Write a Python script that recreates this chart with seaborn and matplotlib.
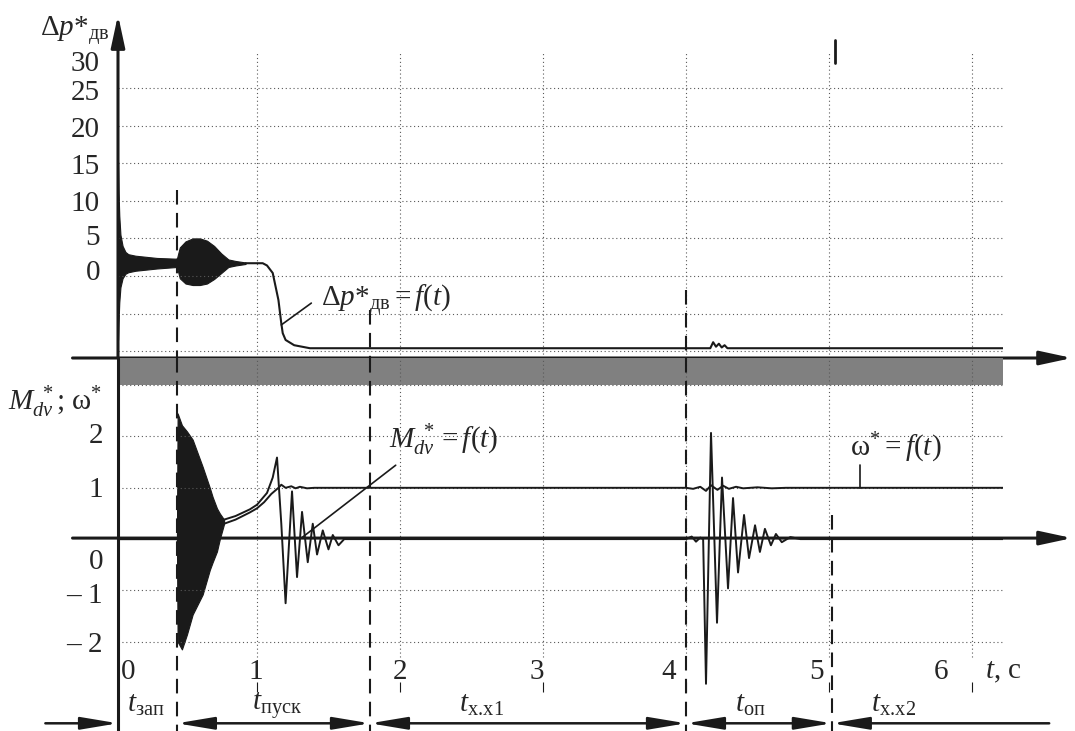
import matplotlib
matplotlib.use('Agg')
import matplotlib.pyplot as plt
import seaborn as sns

sns.set_theme(style='white')
plt.rcParams['font.family'] = ['Liberation Serif', 'DejaVu Serif']
plt.rcParams['mathtext.fontset'] = 'custom'
plt.rcParams['mathtext.rm'] = 'Liberation Serif'
plt.rcParams['mathtext.it'] = 'Liberation Serif:italic'
plt.rcParams['mathtext.bf'] = 'Liberation Serif:bold'

# --- data ---
# time axis (s)
t_ticks = [0, 1, 2, 3, 4, 5, 6]
t_phase = [0.44, 1.79, 4.0, 5.02]          # dashed phase boundaries
phase_labels = ['$t_{\\mathrm{зап}}$', '$t_{\\mathrm{пуск}}$', '$t_{\\mathrm{х.\\!х1}}$',
                '$t_{\\mathrm{оп}}$', '$t_{\\mathrm{х.\\!х2}}$']
phase_label_t = [0.22, 1.14, 2.57, 4.45, 5.45]

# upper panel: pressure drop dp*
dp_ticks = [0, 5, 10, 15, 20, 25, 30]
dp_grid = [25, 20, 15, 10, 5, 0, -5, -10]
dp_init_t = [0.028, 0.032, 0.037, 0.045, 0.06, 0.08, 0.1, 0.15, 0.2, 0.3, 0.44]
dp_init_hi = [15.2, 11.0, 8.0, 5.5, 4.0, 3.2, 2.9, 2.7, 2.6, 2.4, 2.3]
dp_init_lo = [-8.5, -6.0, -3.5, -1.5, -0.3, 0.3, 0.5, 0.7, 0.8, 1.0, 1.2]
dp_burst_t = [0.44, 0.46, 0.5, 0.55, 0.6, 0.65, 0.7, 0.75, 0.8, 0.85, 0.92]
dp_burst_hi = [2.3, 3.8, 4.6, 5.0, 5.0, 4.7, 4.0, 3.0, 2.2, 2.0, 1.8]
dp_burst_lo = [1.2, -0.3, -1.0, -1.2, -1.2, -1.0, -0.4, 0.4, 1.2, 1.4, 1.6]
dp_t = [0.92, 1.04, 1.07, 1.11, 1.15, 1.17, 1.18, 1.20, 1.26, 1.37,
        4.17, 4.19, 4.21, 4.23, 4.25, 4.27, 4.29, 4.33, 6.217]
dp_v = [1.7, 1.7, 1.4, 0.4, -3.2, -6.3, -7.6, -8.5, -9.2, -9.6,
        -9.6, -8.8, -9.4, -9.0, -9.5, -9.2, -9.6, -9.6, -9.6]

# lower panel: torque M* and speed w*
m_ticks = [2, 1, 0, -1, -2]
m_grid = [3, 2, 1, -1, -2]
m_burst_t = [0.44, 0.445, 0.475, 0.51, 0.55, 0.62, 0.67, 0.69, 0.72, 0.74, 0.77]
m_burst_hi = [0.0, 2.45, 2.22, 2.1, 1.94, 1.41, 1.0, 0.82, 0.6, 0.5, 0.38]
m_burst_lo = [0.0, -2.0, -2.15, -1.86, -1.47, -1.08, -0.6, -0.45, -0.24, 0.0, 0.3]
m_t = [0.028, 0.44, 0.77, 0.85, 0.95, 1.0, 1.07, 1.11, 1.14, 1.17, 1.20, 1.245, 1.28,
       1.315, 1.355, 1.39, 1.42, 1.46, 1.50, 1.53, 1.57, 1.61, 1.7, 4.0, 4.04, 4.07,
       4.1, 4.12, 4.14, 4.175, 4.217, 4.252, 4.294, 4.329, 4.364, 4.406, 4.441,
       4.483, 4.517, 4.552, 4.594, 4.629, 4.67, 4.73, 4.8, 6.217]
m_v = [0.0, 0.0, 0.38, 0.45, 0.58, 0.67, 0.9, 1.2, 1.59, 0.3, -1.25, 0.93, -0.74,
       0.53, -0.45, 0.3, -0.3, 0.17, -0.2, 0.08, -0.12, 0.0, 0.0, 0.0, 0.05, -0.05,
       0.03, 0.0, -2.82, 2.07, -1.63, 1.2, -0.96, 0.8, -0.65, 0.47, -0.37,
       0.27, -0.25, 0.2, -0.12, 0.1, -0.06, 0.04, 0.0, 0.0]
w_t = [0.028, 0.44, 0.77, 0.85, 0.95, 1.0, 1.05, 1.1, 1.15, 1.17, 1.2, 1.24, 1.27,
       1.3, 1.35, 1.4, 4.0, 4.05, 4.1, 4.14, 4.175, 4.22, 4.26, 4.3, 4.35, 4.4,
       4.5, 4.6, 4.7, 6.217]
w_v = [0.0, 0.0, 0.3, 0.38, 0.52, 0.6, 0.72, 0.88, 1.0, 1.06, 1.0, 1.03, 0.99,
       1.02, 0.99, 1.0, 1.0, 0.98, 1.02, 0.94, 1.05, 0.96, 1.04, 0.98, 1.02, 0.99,
       1.01, 0.99, 1.0, 1.0]

T_AX, T_END = 0.028, 6.217
TOP_LIM = (-10.9, 34.7)
BOT_LIM = (-3.74, 3.53)

W, H = 1075, 731
fig = plt.figure(figsize=(W / 100, H / 100), dpi=100)


def px_rect(x0, y0, x1, y1):
    return [x0 / W, 1 - y1 / H, (x1 - x0) / W, (y1 - y0) / H]


ax_top = fig.add_axes(px_rect(118, 15, 1003, 358))
ax_bot = fig.add_axes(px_rect(118, 358, 1003, 731))
for ax, lim in ((ax_top, TOP_LIM), (ax_bot, BOT_LIM)):
    ax.set_xlim(T_AX, T_END)
    ax.set_ylim(*lim)
    ax.set_axis_off()
    ax.patch.set_visible(False)

dot = dict(color='0.35', lw=0.8, linestyle=(0, (1, 2.5)))
dash = dict(color='k', lw=1.5, linestyle=(0, (7, 4)), clip_on=False)
FS = 21

# grids
ax_top.hlines(dp_grid, T_AX, T_END, **dot)
ax_top.vlines(t_ticks[1:], TOP_LIM[0], 29.7, **dot)
ax_bot.axhspan(3.0, BOT_LIM[1], color='#808080', lw=0)
ax_bot.hlines(m_grid, T_AX, T_END, **dot)
ax_bot.vlines(t_ticks[1:], -2.3, BOT_LIM[1], **dot)
ax_bot.vlines(t_ticks[1:], -2.98, -2.79, color='k', lw=0.8)
ax_top.plot([5.04, 5.04], [28.3, 31.4], color='k', lw=2)

# curves
ax_top.fill_between(dp_init_t, dp_init_lo, dp_init_hi, color='k', lw=0.8)
ax_top.fill_between(dp_burst_t, dp_burst_lo, dp_burst_hi, color='k', lw=0.8)
sns.lineplot(x=dp_t, y=dp_v, ax=ax_top, color='k', lw=1.5, estimator=None, sort=False)
ax_bot.fill_between(m_burst_t, m_burst_lo, m_burst_hi, color='k', lw=0.8)
sns.lineplot(x=w_t, y=w_v, ax=ax_bot, color='k', lw=1.4, estimator=None, sort=False)
sns.lineplot(x=m_t, y=m_v, ax=ax_bot, color='k', lw=1.4, estimator=None, sort=False)
for ax in (ax_top, ax_bot):
    ax.set_axis_off()

# axes with arrows
head = dict(arrowstyle='-|>,head_length=1.3,head_width=0.28', color='k', lw=2.2,
            shrinkA=0, shrinkB=0, mutation_scale=15)
ax_top.annotate('', xy=(6.7, TOP_LIM[0]), xytext=(-0.29, TOP_LIM[0]),
                arrowprops=head, annotation_clip=False)
ax_bot.annotate('', xy=(6.7, 0.02), xytext=(-0.29, 0.02),
                arrowprops=head, annotation_clip=False)
ax_top.annotate('', xy=(T_AX, TOP_LIM[1]), xytext=(T_AX, TOP_LIM[0]),
                arrowprops=head, annotation_clip=False)
ax_bot.plot([T_AX, T_AX], list(BOT_LIM), color='k', lw=2.2, clip_on=False)

# phase boundaries
starts_top = [11.4, -4.5, -1.9, None]
starts_bot = [BOT_LIM[1], BOT_LIM[1], BOT_LIM[1], 0.47]
for t, st, sb in zip(t_phase, starts_top, starts_bot):
    if st is not None:
        ax_top.plot([t, t], [st, TOP_LIM[0]], **dash)
    ax_bot.plot([t, t], [sb, BOT_LIM[0]], **dash)

# tick labels
dp_label_y = {0: 0.4, 5: 5.0, 10: 9.6, 15: 14.5, 20: 19.4, 25: 24.3, 30: 28.2}
for v in dp_ticks:
    ax_top.text(-0.098, dp_label_y[v], str(v), ha='right', va='center', fontsize=FS)
m_label_y = {2: 2.0, 1: 0.95, 0: -0.45, -1: -1.1, -2: -2.06}
for v in m_ticks:
    txt = str(v) if v >= 0 else '– ' + str(-v)
    ax_bot.text(-0.077, m_label_y[v], txt, ha='right', va='center', fontsize=FS)
t_label_x = [0.1, 0.99, 2.0, 2.96, 3.88, 4.91, 5.78]
for t, x in zip(t_ticks, t_label_x):
    ax_bot.text(x, -2.59, str(t), ha='center', va='center', fontsize=FS)
ax_bot.text(6.22, -2.59, '$t$, с', ha='center', va='center', fontsize=FS)

# axis titles
ax_top.text(-0.03, 32.0, '$\\Delta p$*$_{\\mathrm{дв}}$', ha='right', va='baseline',
            fontsize=FS)
ax_bot.text(-0.084, 2.67, '$M_{dv}^{\\ *}$; $\\mathrm{ω}^{*}$', ha='right', va='center',
            fontsize=FS)

# curve annotations
ax_top.plot([1.17, 1.38], [-6.5, -3.6], color='k', lw=1.2)
ax_top.text(1.45, -3.2, '$\\Delta p$*$_{\\mathrm{дв}}$$=f(t)$', ha='left', va='center',
            fontsize=FS)
ax_bot.plot([1.31, 1.97], [0.02, 1.44], color='k', lw=1.2)
ax_bot.text(1.92, 1.93, '$M_{dv}^{\\ *}=f(t)$', ha='left', va='center', fontsize=FS)
ax_bot.plot([5.22, 5.22], [1.0, 1.44], color='k', lw=1.2)
ax_bot.text(5.15, 1.77, '$\\mathrm{ω}^{*}=f(t)$', ha='left', va='center', fontsize=FS)

# phase arrows along the bottom
y_arr = -3.59
hd = dict(color='k', lw=1.8, shrinkA=0, shrinkB=0, mutation_scale=15)
one = dict(arrowstyle='-|>,head_length=1.5,head_width=0.25', **hd)
two = dict(arrowstyle='<|-|>,head_length=1.5,head_width=0.25', **hd)
ax_bot.annotate('', xy=(T_AX, y_arr), xytext=(-0.48, y_arr), arrowprops=one,
                annotation_clip=False)
ends = t_phase + [6.54]
for i in range(3):
    ax_bot.annotate('', xy=(ends[i + 1], y_arr), xytext=(ends[i], y_arr),
                    arrowprops=two, annotation_clip=False)
ax_bot.annotate('', xy=(ends[3], y_arr), xytext=(ends[4], y_arr), arrowprops=one,
                annotation_clip=False)
for x, lab in zip(phase_label_t, phase_labels):
    ax_bot.text(x, -3.24, lab, ha='center', va='center', fontsize=FS)

fig.savefig('out.png', dpi=100)
